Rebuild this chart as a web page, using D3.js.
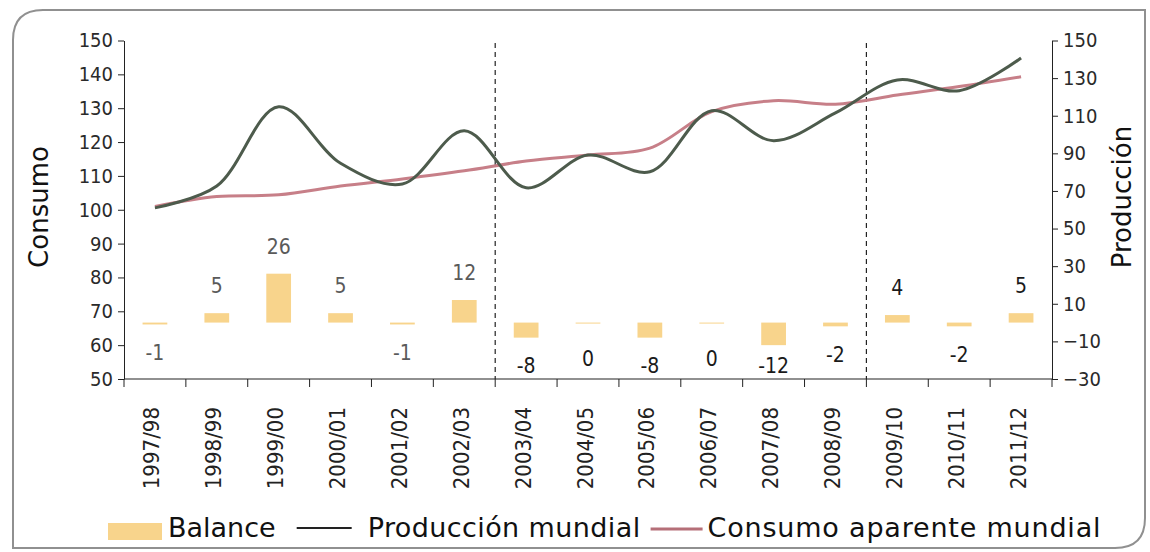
<!DOCTYPE html>
<html>
<head>
<meta charset="utf-8">
<script src="https://cdn.jsdelivr.net/npm/d3@7"></script>
<style>
  html, body { margin: 0; padding: 0; background: #fff; }
  svg { display: block; }
  .tick-label { font-family: 'DejaVu Sans Condensed', 'DejaVu Sans', sans-serif; font-stretch: condensed; font-size: 20px; fill: #2a2a2a; }
  .title { font-family: 'DejaVu Sans', sans-serif; font-size: 26px; fill: #111; }
  .legend { font-family: 'DejaVu Sans', sans-serif; font-size: 27px; fill: #111; }
</style>
</head>
<body>
<script>
const categories = ["1997/98","1998/99","1999/00","2000/01","2001/02","2002/03","2003/04","2004/05","2005/06","2006/07","2007/08","2008/09","2009/10","2010/11","2011/12"];
const balance = [-1, 5, 26, 5, -1, 12, -8, 0, -8, 0, -12, -2, 4, -2, 5];
const produccion = [61, 72.6, 114.8, 84.7, 73.7, 102, 71.7, 89.1, 80.2, 112.7, 96.7, 111.5, 129, 123.3, 140.7];
const consumo = [101, 103.9, 104.4, 107, 109.1, 111.5, 114.4, 116.2, 118.2, 129, 132.2, 131.2, 133.9, 136.4, 139.3];
const leftTicks = [50, 60, 70, 80, 90, 100, 110, 120, 130, 140, 150];
const rightTicks = [-30, -10, 10, 30, 50, 70, 90, 110, 130, 150];
const dividers = ["2003/04", "2009/10"];

const W = 1150, H = 552;
const svg = d3.select("body").append("svg").attr("width", W).attr("height", H);

// frame
const fx0 = 13, fy0 = 10, fx1 = 1145, fy1 = 548, r = 30;
svg.append("path")
  .attr("d", `M${fx0},${fy1} L${fx0},${fy0 + r} Q${fx0},${fy0} ${fx0 + r},${fy0} L${fx1},${fy0} L${fx1},${fy1 - r} Q${fx1},${fy1} ${fx1 - r},${fy1} Z`)
  .attr("fill", "none").attr("stroke", "#909090").attr("stroke-width", 2);

const plotLeft = 124, plotRight = 1052, plotTop = 40.5, plotBottom = 379;
const x = d3.scaleBand().domain(categories).range([plotLeft, plotRight]).padding(0);
const yL = d3.scaleLinear().domain([50, 150]).range([plotBottom, plotTop]);
const yR = d3.scaleLinear().domain([-30, 150]).range([plotBottom, plotTop]);
const cx = c => x(c) + x.bandwidth() / 2;

// dashed dividers
svg.selectAll("line.div").data(dividers).enter().append("line")
  .attr("x1", d => x(d)).attr("x2", d => x(d))
  .attr("y1", 43).attr("y2", plotBottom)
  .attr("stroke", "#222").attr("stroke-width", 1.2).attr("stroke-dasharray", "5,4");

// bars
const barW = x.bandwidth() * 0.4;
svg.selectAll("rect.bar").data(balance).enter().append("rect")
  .attr("x", (d, i) => cx(categories[i]) - barW / 2)
  .attr("y", d => yR(Math.max(d, 0)))
  .attr("width", barW)
  .attr("height", d => Math.max(1, Math.abs(yR(d) - yR(0))))
  .attr("fill", "#f8d48c");

// bar labels
svg.selectAll("text.bl").data(balance).enter().append("text")
  .attr("class", "tick-label")
  .attr("x", (d, i) => cx(categories[i]))
  .attr("y", d => d > 0 ? yR(d) - 20 : (d < 0 ? Math.min(yR(d) + 36, 373) : yR(0) + 43))
  .attr("text-anchor", "middle")
  .style("font-size", "21px")
  .style("fill", (d, i) => i < 6 ? "#5a5a5a" : "#1a1a1a")
  .text(d => d);

// lines
const lineP = d3.line().x((d, i) => cx(categories[i])).y(d => yR(d)).curve(d3.curveCatmullRom.alpha(0.5));
const lineC = d3.line().x((d, i) => cx(categories[i])).y(d => yL(d)).curve(d3.curveCatmullRom.alpha(0.5));
svg.append("path").attr("d", lineC(consumo)).attr("fill", "none").attr("stroke", "#c77f88").attr("stroke-width", 3);
svg.append("path").attr("d", lineP(produccion)).attr("fill", "none").attr("stroke", "#4d5b4c").attr("stroke-width", 3);

// left axis
const gL = svg.append("g").attr("transform", `translate(${plotLeft},0)`)
  .call(d3.axisLeft(yL).tickValues(leftTicks).tickSize(6).tickPadding(5).tickSizeOuter(0));
gL.selectAll("text").attr("class", "tick-label");
gL.selectAll("line, path").attr("stroke", "#222");

// right axis
const gR = svg.append("g").attr("transform", `translate(${plotRight},0)`)
  .call(d3.axisRight(yR).tickValues(rightTicks).tickSize(6).tickPadding(5).tickSizeOuter(0));
gR.selectAll("text").attr("class", "tick-label");
gR.selectAll("line, path").attr("stroke", "#222");

// bottom axis: line + ticks at band boundaries
const boundaries = categories.map(c => x(c)).concat([plotRight]);
svg.append("line").attr("x1", plotLeft).attr("x2", plotRight).attr("y1", plotBottom).attr("y2", plotBottom)
  .attr("stroke", "#222").attr("stroke-width", 1.2);
svg.selectAll("line.xt").data(boundaries).enter().append("line")
  .attr("x1", d => d).attr("x2", d => d).attr("y1", plotBottom).attr("y2", plotBottom + 8)
  .attr("stroke", "#222");
svg.selectAll("text.xl").data(categories).enter().append("text")
  .attr("class", "tick-label")
  .attr("transform", d => `translate(${cx(d) - 3},${plotBottom + 28}) rotate(-90)`)
  .attr("text-anchor", "end")
  .attr("dominant-baseline", "central")
  .style("font-size", "22px")
  .style("fill", "#222")
  .text(d => d);

// axis titles
svg.append("text").attr("class", "title")
  .attr("transform", `translate(39,207) rotate(-90)`)
  .attr("text-anchor", "middle").attr("dominant-baseline", "central")
  .text("Consumo");
svg.append("text").attr("class", "title")
  .attr("transform", `translate(1122,197) rotate(-90)`)
  .attr("text-anchor", "middle").attr("dominant-baseline", "central")
  .text("Producción");

// legend
const lg = svg.append("g");
let lx = 108;
const ly = 537;
lg.append("rect").attr("x", lx).attr("y", ly - 14).attr("width", 54).attr("height", 17).attr("fill", "#f8d48c");
lx += 60;
let t = lg.append("text").attr("class", "legend").attr("x", lx).attr("y", ly).text("Balance");
lx += t.node().getComputedTextLength() + 21;
lg.append("line").attr("x1", lx).attr("x2", lx + 55).attr("y1", ly - 9).attr("y2", ly - 9).attr("stroke", "#222").attr("stroke-width", 2);
lx += 71;
t = lg.append("text").attr("class", "legend").attr("x", lx).attr("y", ly).style("letter-spacing", "0.4px").text("Producción mundial");
lx += t.node().getComputedTextLength() + 10;
lg.append("line").attr("x1", lx).attr("x2", lx + 52).attr("y1", ly - 8).attr("y2", ly - 8).attr("stroke", "#b56f78").attr("stroke-width", 3);
lx += 57;
lg.append("text").attr("class", "legend").attr("x", lx).attr("y", ly).style("letter-spacing", "0.8px").text("Consumo aparente mundial");
</script>
</body>
</html>
